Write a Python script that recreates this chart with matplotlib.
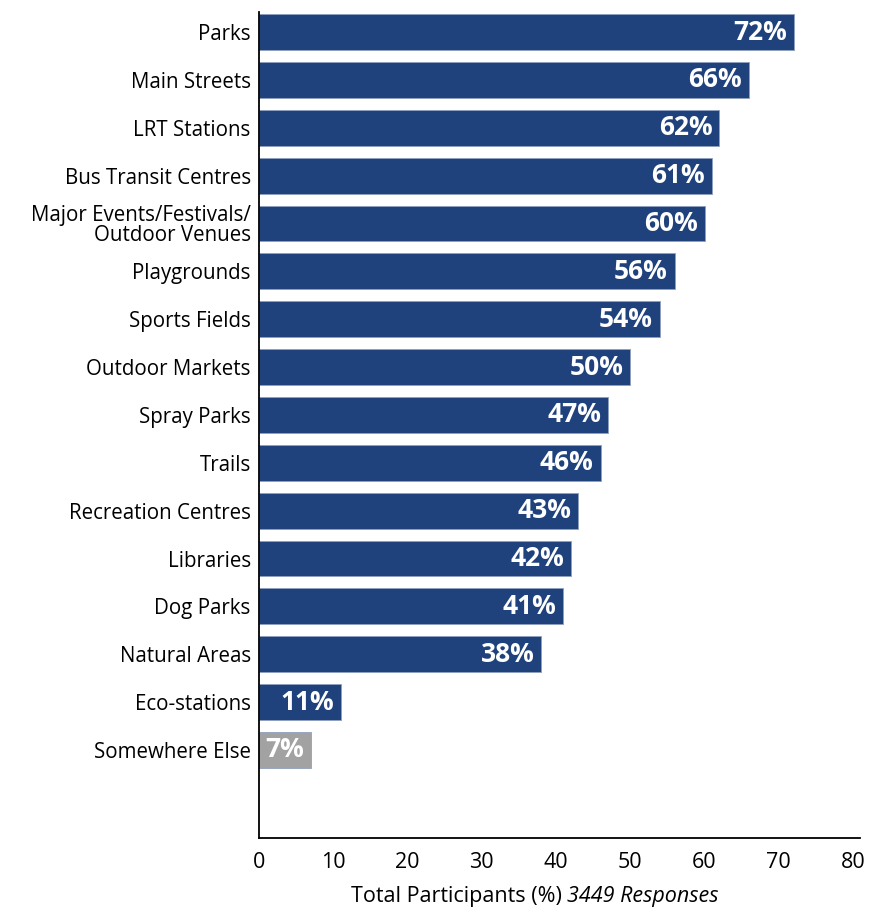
import matplotlib.pyplot as plt

plt.rcParams['font.family'] = ['Open Sans', 'DejaVu Sans']

# survey results, top to bottom
places = ['Parks', 'Main Streets', 'LRT Stations', 'Bus Transit Centres',
          'Major Events/Festivals/\nOutdoor Venues', 'Playgrounds', 'Sports Fields',
          'Outdoor Markets', 'Spray Parks', 'Trails', 'Recreation Centres',
          'Libraries', 'Dog Parks', 'Natural Areas', 'Eco-stations', 'Somewhere Else']
shares = [72, 66, 62, 61, 60, 56, 54, 50, 47, 46, 43, 42, 41, 38, 11, 7]
ticks = [0, 10, 20, 30, 40, 50, 60, 70, 80]

navy = '#1f427d'
grey = '#a2a2a2'
colors = [navy] * (len(places) - 1) + [grey]

fig = plt.figure(figsize=(8.7, 9.07), dpi=100)
ax = fig.add_axes([259 / 870, 1 - 838 / 907, 601 / 870, 826 / 907])

ypos = list(range(len(places)))
ax.barh(ypos, shares, height=0.75, color=colors, edgecolor='#8fa0bf', linewidth=0.6)

for y, v in zip(ypos, shares):
    ax.annotate(f'{v}%', (v, y), xytext=(-5, 0), textcoords='offset points',
                ha='right', va='center', color='white', fontsize=19,
                fontweight='bold')

ax.set_yticks(ypos)
ax.set_yticklabels(places, fontsize=14.8, linespacing=0.95)
ax.set_xticks(ticks)
ax.set_xticklabels([str(t) for t in ticks], fontsize=15.5)
ax.tick_params(axis='both', length=0)
ax.tick_params(axis='x', pad=10)
ax.tick_params(axis='y', pad=6)

ax.set_xlim(0, 80 * 601 / 594)
ax.set_ylim(16.84, -0.42)

for side in ['top', 'right']:
    ax.spines[side].set_visible(False)
for side in ['left', 'bottom']:
    ax.spines[side].set_linewidth(1.3)

# axis title: plain part followed by the italic response count
t1 = fig.text(351 / 870, 0.0, 'Total Participants (%) ', ha='left', va='bottom',
              fontsize=15.5)
fig.canvas.draw()
bb = t1.get_window_extent()
fig.text(bb.x1 / 870, 0.0, '3449 Responses', ha='left', va='bottom',
         fontsize=15.5, style='italic')

fig.savefig('out.png', dpi=100)
